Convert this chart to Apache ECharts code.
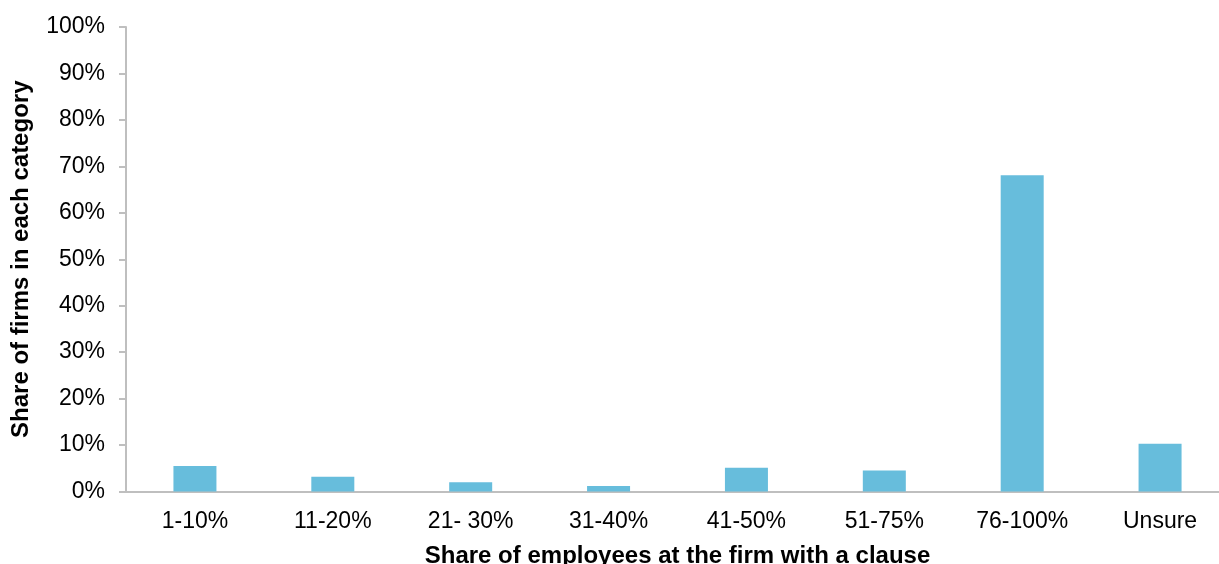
<!DOCTYPE html>
<html>
<head>
<meta charset="utf-8">
<style>
  html, body { margin: 0; padding: 0; background: #ffffff; }
  #chart { width: 1219px; height: 564px; }
</style>
<script src="https://cdn.jsdelivr.net/npm/echarts@6/dist/echarts.min.js"></script>
</head>
<body>
<div id="chart"></div>
<script>
// Share of employees covered by a clause, grouped by firm
const categories = ['1-10%', '11-20%', '21- 30%', '31-40%', '41-50%', '51-75%', '76-100%', 'Unsure'];
const shareOfFirms = [5.5, 3.2, 2.0, 1.2, 5.1, 4.5, 68.1, 10.3];
const yTicks = [0, 10, 20, 30, 40, 50, 60, 70, 80, 90, 100];

const chart = echarts.init(document.getElementById('chart'), null, { renderer: 'canvas' });
const font = 'Liberation Sans, Arial, sans-serif';

chart.setOption({
  animation: false,
  backgroundColor: '#ffffff',
  grid: { left: 126, top: 27, width: 1103, height: 464.5, containLabel: false, outerBoundsMode: 'none' },
  xAxis: {
    type: 'category',
    data: categories,
    name: 'Share of employees at the firm with a clause',
    nameLocation: 'middle',
    nameGap: 53,
    nameTextStyle: { fontFamily: font, fontSize: 24, fontWeight: 'bold', color: '#000' },
    axisLine: { lineStyle: { color: '#bfbfbf', width: 2 } },
    axisTick: { show: false },
    axisLabel: { fontFamily: font, fontSize: 23, color: '#000', margin: 19 }
  },
  yAxis: {
    type: 'value',
    min: yTicks[0],
    max: yTicks[yTicks.length - 1],
    interval: 10,
    name: 'Share of firms in each category',
    nameLocation: 'middle',
    nameGap: 93,
    nameTextStyle: { fontFamily: font, fontSize: 24, fontWeight: 'bold', color: '#000' },
    axisLine: { show: true, lineStyle: { color: '#bfbfbf', width: 2 } },
    axisTick: { show: true, inside: false, length: 7, lineStyle: { color: '#bfbfbf', width: 2 } },
    splitLine: { show: false },
    axisLabel: { fontFamily: font, fontSize: 23, color: '#000', margin: 21, formatter: '{value}%' }
  },
  series: [{
    type: 'bar',
    data: shareOfFirms,
    barWidth: 43,
    itemStyle: { color: '#67bddc' }
  }]
});
</script>
</body>
</html>
